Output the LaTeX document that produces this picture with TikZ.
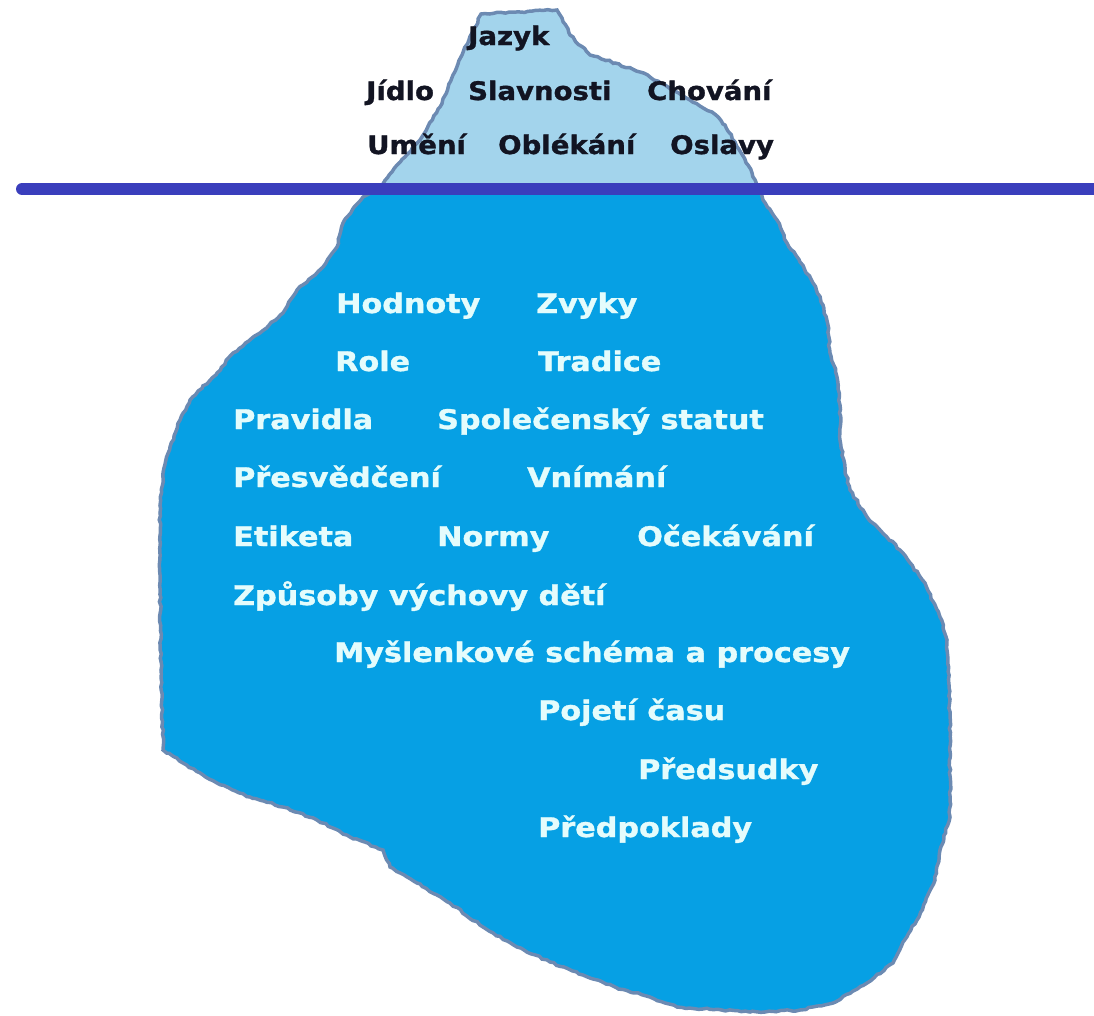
\documentclass[tikz,border=0pt]{standalone}
\usepackage{fontspec}
\usetikzlibrary{decorations.pathmorphing}
\newfontfamily\tipfont[FakeStretch=1.08,FakeBold=1.2]{DejaVu Sans}
\newfontfamily\deepfont[FakeStretch=1.12,FakeBold=1.2]{DejaVu Sans}
\definecolor{tipfill}{RGB}{163,212,236}
\definecolor{deepfill}{RGB}{6,160,228}
\definecolor{rimline}{RGB}{108,138,178}
\definecolor{waterline}{RGB}{58,62,188}
\definecolor{tiptext}{RGB}{18,20,34}
\definecolor{deeptext}{RGB}{228,252,252}
\tikzset{
  tiplabel/.style={anchor=base west, inner sep=0pt, text=tiptext,
    font=\tipfont\bfseries\fontsize{25.5}{30}\selectfont},
  deeplabel/.style={anchor=base west, inner sep=0pt, text=deeptext,
    font=\deepfont\bfseries\fontsize{27}{32}\selectfont},
  rough/.style={decorate, decoration={random steps, segment length=4pt, amplitude=0.9pt}},
}
\begin{document}
\begin{tikzpicture}[x=1pt,y=-1pt]
\useasboundingbox (0,0) rectangle (1094,1015);
\pgfmathsetseed{7}
% outline of the whole iceberg
\def\berg{(481,14) -- (520,12) -- (557,10) -- (562,18) -- (570,35) -- (590,55) -- (615,63)
  -- (640,72) -- (665,85) -- (690,100) -- (712,112) -- (725,125) -- (735,142) -- (748,165)
  -- (757,185) -- (763,200) -- (777,220) -- (787,243) -- (800,262) -- (813,283) -- (823,305)
  -- (828,325) -- (830,353) -- (837,377) -- (840,405) -- (840,440) -- (845,470) -- (850,490)
  -- (867,517) -- (900,550) -- (925,583) -- (940,617) -- (947,640) -- (950,717) -- (950,817)
  -- (940,850) -- (935,880) -- (917,920) -- (903,942) -- (893,963) -- (867,983) -- (833,1003)
  -- (800,1010) -- (750,1012) -- (677,1007) -- (650,997) -- (617,988) -- (583,975) -- (550,962)
  -- (517,947) -- (483,927) -- (450,903) -- (417,883) -- (390,867) -- (383,850) -- (350,837)
  -- (317,820) -- (283,807) -- (250,797) -- (217,783) -- (183,763) -- (163,750) -- (161,670)
  -- (160,580) -- (160,513) -- (163,473) -- (170,447) -- (180,420) -- (190,400) -- (217,373)
  -- (233,353) -- (260,333) -- (283,313) -- (297,290) -- (323,267) -- (337,247) -- (343,223)
  -- (363,197) -- (383,184) -- (397,165) -- (420,140) -- (440,107) -- (453,75) -- (462,55)
  -- (472,33) -- cycle}
% part above the water
\begin{scope}
  \clip (0,0) rectangle (1094,189);
  \draw[rough, rimline, line width=3.5pt, fill=tipfill] \berg;
\end{scope}
% part below the water
\pgfmathsetseed{7}
\begin{scope}
  \clip (0,189) rectangle (1094,1015);
  \draw[rough, rimline, line width=3.5pt, fill=deepfill] \berg;
\end{scope}
% water surface
\draw[waterline, line width=12pt, line cap=round] (22,189) -- (1110,189);
% visible layer
\node[tiplabel] (jazyk) at (468,45) {Jazyk};
\node[tiplabel] (jidlo) at (366,100) {Jídlo};
\node[tiplabel] (slavnosti) at (468,100) {Slavnosti};
\node[tiplabel] (chovani) at (647,100) {Chování};
\node[tiplabel] (umeni) at (367,154) {Umění};
\node[tiplabel] (oblekani) at (498,154) {Oblékání};
\node[tiplabel] (oslavy) at (670,154) {Oslavy};
% hidden layer
\node[deeplabel] (hodnoty) at (336,313) {Hodnoty};
\node[deeplabel] (zvyky) at (536,313) {Zvyky};
\node[deeplabel] (role) at (335,371) {Role};
\node[deeplabel] (tradice) at (538,371) {Tradice};
\node[deeplabel] (pravidla) at (233,429) {Pravidla};
\node[deeplabel] (status) at (437,429) {Společenský statut};
\node[deeplabel] (presvedceni) at (233,487) {Přesvědčení};
\node[deeplabel] (vnimani) at (527,487) {Vnímání};
\node[deeplabel] (etiketa) at (233,546) {Etiketa};
\node[deeplabel] (normy) at (437,546) {Normy};
\node[deeplabel] (ocekavani) at (637,546) {Očekávání};
\node[deeplabel] (vychova) at (233,605) {Způsoby výchovy dětí};
\node[deeplabel] (schema) at (334,662) {Myšlenkové schéma a procesy};
\node[deeplabel] (cas) at (538,720) {Pojetí času};
\node[deeplabel] (predsudky) at (638,779) {Předsudky};
\node[deeplabel] (predpoklady) at (538,837) {Předpoklady};
\end{tikzpicture}
\end{document}
